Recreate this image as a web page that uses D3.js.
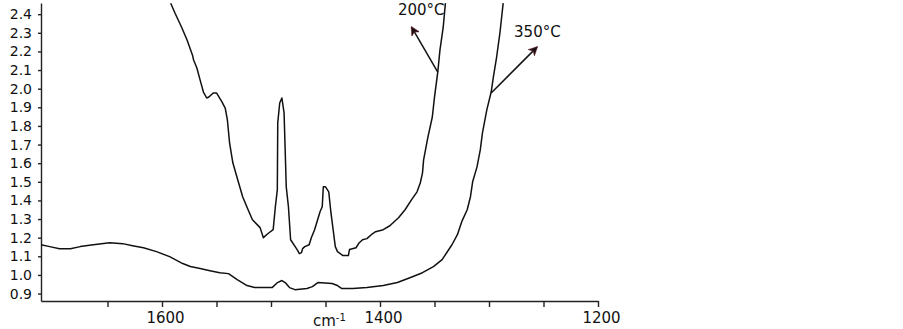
<!DOCTYPE html>
<html>
<head>
<meta charset="utf-8">
<script src="https://cdn.jsdelivr.net/npm/d3@7"></script>
<style>
  body { margin: 0; background: #fff; }
  svg { display: block; }
  .axis text { font-family: "DejaVu Sans", sans-serif; fill: #111; }
  .axis path, .axis line { stroke: #222; stroke-width: 1.4px; }
  .curve { fill: none; stroke: #111; stroke-width: 1.5px; stroke-linejoin: round; }
  .note { font-family: "DejaVu Sans", sans-serif; font-size: 15px; fill: #111; }
</style>
</head>
<body>
<div id="chart"></div>
<script>
// 200°C spectrum (wavenumber cm-1, absorbance)
var wn200 = [1592, 1588, 1582, 1577, 1572, 1571, 1568, 1565, 1562, 1559, 1557, 1553, 1550, 1545, 1542, 1540,
    1538, 1535, 1530, 1526, 1521, 1517, 1510, 1507, 1503, 1498, 1496, 1494.2, 1493.8, 1492, 1490, 1488,
    1486, 1484, 1482, 1476, 1474, 1472, 1471, 1469, 1465, 1463, 1460, 1455, 1453, 1452, 1450, 1447,
    1445, 1443, 1441, 1439, 1434, 1429, 1428, 1422, 1419, 1416, 1412, 1407, 1404, 1397, 1391, 1383,
    1377, 1371, 1366, 1363, 1361, 1360, 1356, 1352, 1350, 1347, 1345, 1342, 1340];
var abs200 = [2.459, 2.405, 2.330, 2.261, 2.180, 2.154, 2.111, 2.046, 1.982, 1.950, 1.955, 1.977, 1.977, 1.929, 1.896, 1.832,
    1.709, 1.602, 1.500, 1.420, 1.350, 1.296, 1.254, 1.200, 1.221, 1.243, 1.366, 1.457, 1.816, 1.923, 1.950, 1.870,
    1.473, 1.366, 1.189, 1.136, 1.114, 1.120, 1.141, 1.152, 1.162, 1.200, 1.243, 1.339, 1.366, 1.473, 1.473, 1.446,
    1.334, 1.243, 1.152, 1.125, 1.104, 1.104, 1.136, 1.146, 1.173, 1.189, 1.195, 1.221, 1.232, 1.243, 1.264, 1.307,
    1.350, 1.404, 1.446, 1.495, 1.548, 1.618, 1.741, 1.848, 1.955, 2.089, 2.207, 2.330, 2.459];

// 350°C spectrum
var wn350 = [1711, 1703, 1694, 1684, 1675, 1663, 1648, 1636, 1627, 1617, 1605, 1593, 1581, 1574, 1565, 1556,
    1547, 1539, 1531, 1522, 1515, 1499, 1494, 1490, 1487, 1483, 1478, 1467, 1462, 1457, 1444, 1439,
    1435, 1425, 1412, 1397, 1384, 1372, 1361, 1351, 1343, 1334, 1329, 1325, 1320, 1317, 1315, 1311,
    1308, 1306, 1302, 1298, 1296, 1293, 1290, 1288, 1287];
var abs350 = [1.162, 1.152, 1.141, 1.141, 1.152, 1.162, 1.173, 1.168, 1.157, 1.146, 1.125, 1.098, 1.061, 1.045, 1.034, 1.023,
    1.012, 1.007, 0.975, 0.943, 0.932, 0.932, 0.959, 0.970, 0.959, 0.932, 0.921, 0.927, 0.937, 0.959, 0.954, 0.943,
    0.927, 0.927, 0.932, 0.943, 0.959, 0.986, 1.012, 1.045, 1.082, 1.162, 1.216, 1.286, 1.350, 1.420, 1.500, 1.580,
    1.671, 1.763, 1.886, 1.982, 2.062, 2.170, 2.298, 2.405, 2.459];

var yTicks = [0.9, 1.0, 1.1, 1.2, 1.3, 1.4, 1.5, 1.6, 1.7, 1.8, 1.9, 2.0, 2.1, 2.2, 2.3, 2.4];
var xTicks = [1650, 1600, 1550, 1500, 1450, 1400, 1350, 1300, 1250, 1200];
var xLabelled = [1600, 1400, 1200];

// arrows: label, curve point, arrow tip, label anchor
var labels = ["200°C", "350°C"];
var arrowFrom = [[1347, 2.089], [1298, 1.977]];
var arrowTo = [[1371, 2.330], [1256, 2.223]];
var labelAt = [[1383.5, 2.395], [1277, 2.277]];

var width = 903, height = 329;

var svg = d3.select("#chart").append("svg")
    .attr("width", width)
    .attr("height", height);

var x = d3.scaleLinear().domain([1711, 1200]).range([41, 598]);
var y = d3.scaleLinear().domain([0.86, 2.46]).range([301, 3]);

// y axis
var yAxis = svg.append("g")
    .attr("class", "axis")
    .attr("transform", "translate(41,0)")
    .call(d3.axisLeft(y).tickValues(yTicks).tickFormat(d3.format(".1f"))
        .tickSize(3).tickSizeOuter(0).tickPadding(6));
yAxis.selectAll("text").style("font-size", "14px");

// x axis
var xAxis = svg.append("g")
    .attr("class", "axis")
    .attr("transform", "translate(0,301)")
    .call(d3.axisBottom(x).tickValues(xTicks)
        .tickFormat(function(d) { return xLabelled.includes(d) ? d : ""; })
        .tickSize(6).tickSizeOuter(0).tickPadding(5));
xAxis.selectAll("text").style("font-size", "15px").attr("dx", 3);

// axis unit
svg.append("text")
    .attr("class", "note")
    .attr("x", 313)
    .attr("y", 326)
    .text("cm")
    .append("tspan")
    .attr("dy", -5)
    .style("font-size", "10px")
    .text("-1");

// spectra
var line = d3.line()
    .x(function(d) { return x(d[0]); })
    .y(function(d) { return y(d[1]); });

svg.append("path")
    .attr("class", "curve")
    .attr("d", line(d3.zip(wn200, abs200)));

svg.append("path")
    .attr("class", "curve")
    .attr("d", line(d3.zip(wn350, abs350)));

// arrow heads
svg.append("defs").append("marker")
    .attr("id", "head")
    .attr("viewBox", "0 0 10 10")
    .attr("refX", 9)
    .attr("refY", 5)
    .attr("markerWidth", 9)
    .attr("markerHeight", 9)
    .attr("markerUnits", "userSpaceOnUse")
    .attr("orient", "auto")
    .append("path")
    .attr("d", "M0,0 L10,5 L0,10 L3,5 Z")
    .attr("fill", "#1a1012")
    .attr("stroke", "#6b1f2a")
    .attr("stroke-width", 0.6);

labels.forEach(function(lab, i) {
    svg.append("line")
        .attr("x1", x(arrowFrom[i][0]))
        .attr("y1", y(arrowFrom[i][1]))
        .attr("x2", x(arrowTo[i][0]))
        .attr("y2", y(arrowTo[i][1]))
        .attr("stroke", "#111")
        .attr("stroke-width", 1.5)
        .attr("marker-end", "url(#head)");

    svg.append("text")
        .attr("class", "note")
        .attr("x", x(labelAt[i][0]))
        .attr("y", y(labelAt[i][1]))
        .text(lab);
});
</script>
</body>
</html>
